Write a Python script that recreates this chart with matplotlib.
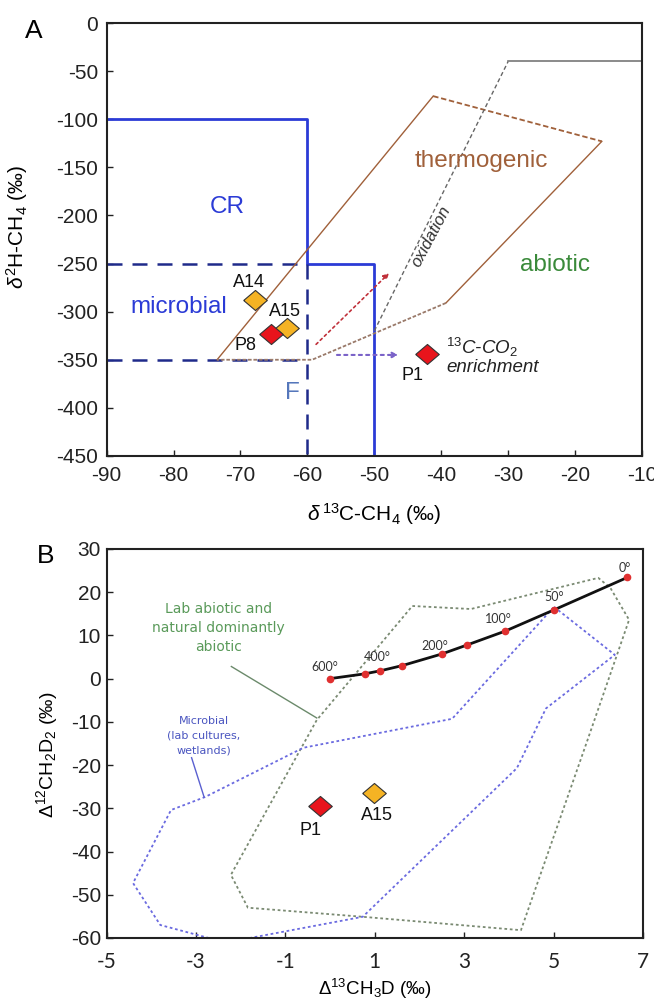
import matplotlib
matplotlib.use("Agg")
import matplotlib.pyplot as plt

plt.rcParams['font.family'] = ['Liberation Sans', 'DejaVu Sans']
plt.rcParams['mathtext.fontset'] = 'custom'
plt.rcParams['mathtext.rm'] = 'Liberation Sans'
plt.rcParams['mathtext.it'] = 'Liberation Sans:italic'
plt.rcParams['axes.unicode_minus'] = False

# ---------------- Panel A data ----------------
cr_solid_x = [-90, -60, -60, -50, -50]
cr_solid_y = [-100, -100, -250, -250, -450]
f_dash_h_x = [-90, -60]
f_dash_h1_y = [-250, -250]
f_dash_h2_y = [-350, -350]
f_dash_v_x = [-60, -60]
f_dash_v_y = [-250, -450]

thermo_left_x = [-73.5, -41.2]
thermo_left_y = [-350, -76]
thermo_top_x = [-41.2, -16]
thermo_top_y = [-76, -123]
thermo_right_x = [-16, -39.3]
thermo_right_y = [-123, -291]
thermo_bottom_x = [-39.3, -59.3, -73.5]
thermo_bottom_y = [-291, -350, -350]

abiotic_dash_x = [-50, -30]
abiotic_dash_y = [-320, -40]
abiotic_top_x = [-30, -10]
abiotic_top_y = [-40, -40]

ox_arrow_start = (-59, -336)
ox_arrow_end = (-47.5, -258)
co2_arrow_start = (-56, -345)
co2_arrow_end = (-46, -345)

a_names = ['A14', 'A15', 'P8', 'P1']
a_x = [-67.8, -63.0, -65.5, -42.1]
a_y = [-288, -317, -323, -344]
a_colors = ['#f5b324', '#f5b324', '#e8141c', '#e8141c']
a_label_x = [-68.7, -63.4, -69.2, -44.3]
a_label_y = [-270, -300, -335, -366]

a_xticks = [-90, -80, -70, -60, -50, -40, -30, -20, -10]
a_yticks = [0, -50, -100, -150, -200, -250, -300, -350, -400, -450]

# ---------------- Panel B data ----------------
curve_x = [0.0, 0.77, 1.12, 1.61, 2.50, 3.07, 3.92, 5.01, 6.65]
curve_y = [0.0, 1.1, 1.8, 3.0, 5.7, 7.8, 11.0, 15.9, 23.4]
temp_labels = ['600°', '400°', '200°', '100°', '50°', '0°']
temp_x = [-0.12, 1.05, 2.35, 3.76, 5.01, 6.6]
temp_y = [2.6, 5.1, 7.6, 13.8, 18.9, 25.6]

abiotic_poly_x = [1.84, 3.15, 6.0, 6.27, 6.69, 5.76, 4.27, 0.73, -1.84, -2.22, -0.30, 1.84]
abiotic_poly_y = [16.8, 16.1, 23.3, 21.0, 13.6, -14.2, -58.2, -55.1, -53.0, -45.4, -9.6, 16.8]

microbial_poly_x = [5.01, 6.37, 4.83, 4.18, 0.73, -1.79, -2.54, -3.80, -4.41, -3.56, -2.80, -0.60, 2.73, 5.01]
microbial_poly_y = [16.6, 5.5, -6.9, -20.7, -55.1, -60.0, -60.5, -57.0, -47.3, -30.4, -27.4, -16.0, -9.3, 16.6]

b_names = ['P1', 'A15']
b_x = [-0.23, 0.98]
b_y = [-29.5, -26.4]
b_colors = ['#e8141c', '#f5b324']
b_label_x = [-0.45, 1.05]
b_label_y = [-35.2, -31.6]

b_xticks = [-5, -3, -1, 1, 3, 5, 7]
b_yticks = [30, 20, 10, 0, -10, -20, -30, -40, -50, -60]

# diamond marker (slightly wider than tall)
diamond = [(-1, 0), (0, 0.85), (1, 0), (0, -0.85), (-1, 0)]

# ---------------- Figure ----------------
fig = plt.figure(figsize=(6.54, 10.05), dpi=100)
axA = fig.add_axes([0.1631, 0.5463, 0.8185, 0.4308])
axB = fig.add_axes([0.1631, 0.0667, 0.8200, 0.3871])

for ax in (axA, axB):
    for s in ax.spines.values():
        s.set_linewidth(1.5)
        s.set_color('#222222')
    ax.tick_params(direction='in', length=4, width=1, colors='#222222')

# Panel A
blue = '#2b3bd6'
navy = '#1f2a8a'
brown = '#a0603a'
axA.plot(cr_solid_x, cr_solid_y, color=blue, lw=2)
axA.plot(f_dash_h_x, f_dash_h1_y, color=navy, lw=1.8, dashes=(6, 4))
axA.plot(f_dash_h_x, f_dash_h2_y, color=navy, lw=1.8, dashes=(6, 4))
axA.plot(f_dash_v_x, f_dash_v_y, color=navy, lw=1.8, dashes=(6, 4))

axA.plot(thermo_left_x, thermo_left_y, color=brown, lw=1)
axA.plot(thermo_top_x, thermo_top_y, color=brown, lw=1.3, dashes=(3, 1.5))
axA.plot(thermo_right_x, thermo_right_y, color=brown, lw=1)
axA.plot(thermo_bottom_x, thermo_bottom_y, color='#9a7a6a', lw=1.3, dashes=(2, 1))

axA.plot(abiotic_dash_x, abiotic_dash_y, color='#666666', lw=1, dashes=(3, 2))
axA.plot(abiotic_top_x, abiotic_top_y, color='#777777', lw=1.2)

axA.annotate('', xy=ox_arrow_end, xytext=ox_arrow_start,
             arrowprops=dict(arrowstyle='-|>', color='#c0303a', lw=1.2,
                             linestyle=(0, (1.5, 2)), mutation_scale=8))
axA.annotate('', xy=co2_arrow_end, xytext=co2_arrow_start,
             arrowprops=dict(arrowstyle='-|>', color='#7a62c8', lw=1.5,
                             linestyle=(0, (1.5, 2)), mutation_scale=8))

for x, y, c in zip(a_x, a_y, a_colors):
    axA.plot(x, y, marker=diamond, ms=17, color=c, mec='#333333', mew=0.8, zorder=5)
for n, x, y in zip(a_names, a_label_x, a_label_y):
    axA.text(x, y, n, fontsize=13, ha='center', va='center', color='#111111', zorder=6)

axA.text(-72, -191, 'CR', fontsize=17.5, color=blue, ha='center', va='center')
axA.text(-79.2, -295, 'microbial', fontsize=17.5, color=blue, ha='center', va='center')
axA.text(-62.3, -385, 'F', fontsize=17.5, color='#5577bb', ha='center', va='center')
axA.text(-34, -143, 'thermogenic', fontsize=17.5, color=brown, ha='center', va='center')
axA.text(-23, -251, 'abiotic', fontsize=17.5, color='#3a8a3a', ha='center', va='center')
axA.text(-41.5, -222, 'oxidation', fontsize=12, style='italic', color='#333333',
         rotation=62, ha='center', va='center')
axA.text(-39.3, -337, r'$^{13}$C-CO$_2$', fontsize=13.5, style='italic', color='#222222',
         ha='left', va='center')
axA.text(-39.3, -358, 'enrichment', fontsize=13.5, style='italic', color='#222222',
         ha='left', va='center')

axA.set_xlim(-90, -10)
axA.set_ylim(-450, 0)
axA.set_xticks(a_xticks)
axA.set_yticks(a_yticks)
axA.tick_params(axis='x', labelsize=15, pad=7)
axA.tick_params(axis='y', labelsize=15, pad=6)
axA.set_xlabel(r'$\delta^{\,13}$C-CH$_4$ (‰)', fontsize=15)
axA.xaxis.set_label_coords(0.5, -0.105)
axA.set_ylabel(r'$\delta^{2}$H-CH$_4$ (‰)', fontsize=15)
axA.yaxis.set_label_coords(-0.143, 0.53)
fig.text(0.052, 0.969, 'A', fontsize=19, ha='center', va='center')

# Panel B
axB.plot(abiotic_poly_x, abiotic_poly_y, color='#7a8a72', lw=1.3, linestyle=(0, (1.5, 1.5)))
axB.plot(microbial_poly_x, microbial_poly_y, color='#6a6ae0', lw=1.3, linestyle=(0, (1.5, 1.5)))
axB.plot(curve_x, curve_y, color='#111111', lw=2, zorder=4)
axB.plot(curve_x, curve_y, 'o', color='#e03030', ms=4.5, zorder=5)
for t, x, y in zip(temp_labels, temp_x, temp_y):
    axB.text(x, y, t, fontsize=9, color='#333333', ha='center', va='center',
             family=['Lato', 'DejaVu Sans'])

axB.plot([-2.21, -0.30], [2.8, -9.1], color='#6b8a6b', lw=1)
axB.plot([-3.1, -2.82], [-18.3, -27.4], color='#5a60d0', lw=1)
axB.text(-2.49, 11.7, 'Lab abiotic and\nnatural dominantly\nabiotic', fontsize=10,
         color='#5a9a5a', ha='center', va='center', linespacing=1.45,
         family=['DejaVu Sans'])
axB.text(-2.82, -13.2, 'Microbial\n(lab cultures,\nwetlands)', fontsize=8,
         color='#4a55c0', ha='center', va='center', linespacing=1.6,
         family=['DejaVu Sans'])

for x, y, c in zip(b_x, b_y, b_colors):
    axB.plot(x, y, marker=diamond, ms=17, color=c, mec='#333333', mew=0.8, zorder=6)
for n, x, y in zip(b_names, b_label_x, b_label_y):
    axB.text(x, y, n, fontsize=13, ha='center', va='center', color='#111111', zorder=6)

axB.set_xlim(-5, 7)
axB.set_ylim(-60, 30)
axB.set_xticks(b_xticks)
axB.set_yticks(b_yticks)
axB.tick_params(axis='y', labelsize=15, pad=4)
axB.tick_params(axis='x', labelsize=15, pad=10)
for lab in axB.get_xticklabels():
    lab.set_family(['Lato', 'DejaVu Sans'])
axB.set_xlabel(r'$\Delta^{13}$CH$_3$D (‰)', fontsize=13.5)
axB.xaxis.set_label_coords(0.5, -0.1)
axB.set_ylabel(r'$\Delta^{12}$CH$_2$D$_2$ (‰)', fontsize=14)
axB.yaxis.set_label_coords(-0.087, 0.47)
fig.text(0.069, 0.447, 'B', fontsize=19, ha='center', va='center')

fig.savefig('out.png', dpi=100)
